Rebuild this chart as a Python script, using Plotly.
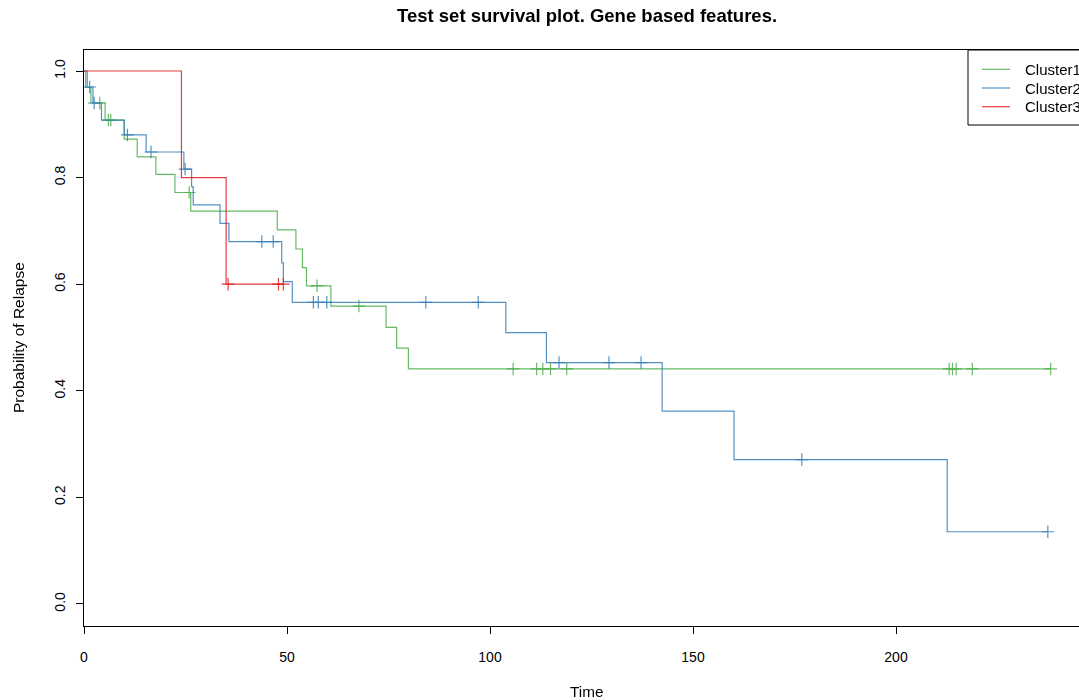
import numpy as np
import plotly.graph_objects as go

# ---- data ----
cluster_names = ["Cluster1", "Cluster2", "Cluster3"]
cluster_colors = ["#4DAF4A", "#377EB8", "#E41A1C"]

c1_event_times = [0.4, 1.7, 5.2, 9.9, 13.1, 17.7, 22.4, 26.3, 47.6, 52.2, 53.8, 54.8, 60.8, 74.4, 77.0, 79.9]
c1_surv = [0.969, 0.940, 0.908, 0.872, 0.839, 0.806, 0.772, 0.737, 0.702, 0.666, 0.631, 0.597, 0.559, 0.519, 0.480, 0.441]
c1_censor = [3.9, 6.0, 6.6, 25.9, 57.4, 67.7, 105.7, 111.5, 113.0, 114.9, 118.9, 213.1, 213.9, 214.8, 218.8, 238.1]

c2_event_times = [0.8, 2.2, 4.3, 9.9, 15.3, 24.6, 26.5, 26.9, 33.5, 35.7, 48.7, 49.1, 51.3, 103.9, 113.9, 142.4, 160.1, 212.6]
c2_surv = [0.970, 0.940, 0.908, 0.880, 0.848, 0.816, 0.783, 0.749, 0.714, 0.680, 0.640, 0.605, 0.566, 0.509, 0.453, 0.362, 0.271, 0.1355]
c2_censor = [1.4, 2.5, 10.7, 16.5, 24.9, 43.8, 46.6, 56.5, 57.7, 59.8, 84.2, 97.1, 117.0, 129.3, 137.2, 176.8, 237.4]

c3_event_times = [24.0, 35.0]
c3_surv = [0.8, 0.6]
c3_censor = [35.5, 47.9, 49.1]

x_ticks = [0, 50, 100, 150, 200]
y_ticks = [0.0, 0.2, 0.4, 0.6, 0.8, 1.0]
y_tick_labels = ["0.0", "0.2", "0.4", "0.6", "0.8", "1.0"]

title_text = "Test set survival plot. Gene based features."
x_title = "Time"
y_title = "Probability of Relapse"

# ---- layout geometry (pixels) ----
W, H = 1079, 700
L, T, B = 84, 50, 74
plot_w = W - L
plot_h = H - T - B
px_per_unit = 4.06
x_max = plot_w / px_per_unit
y_lo, y_hi = -0.0413, 1.0394

FONT = "Liberation Sans, Arial, Helvetica, sans-serif"

series = [
    (c1_event_times, c1_surv, c1_censor),
    (c2_event_times, c2_surv, c2_censor),
    (c3_event_times, c3_surv, c3_censor),
]


def px_to_paper_x(px):
    return (px - L) / plot_w


def px_to_paper_y(py):
    return (H - B - py) / plot_h


fig = go.Figure()
for (ev, sv, cen), name, col in zip(series, cluster_names, cluster_colors):
    ev = np.asarray(ev, float)
    sv = np.asarray(sv, float)
    cen = np.asarray(cen, float)
    end = max(ev.max(), cen.max())
    xs = np.concatenate([[0.0], ev, [end]])
    ys = np.concatenate([[1.0], sv, [sv[-1]]])
    fig.add_trace(go.Scatter(
        x=xs, y=ys, mode="lines", line=dict(color=col, width=1.2, shape="hv"),
        name=name, legendgroup=name, opacity=0.85, showlegend=False,
    ))
    idx = np.searchsorted(ev, cen, side="right")
    levels = np.concatenate([[1.0], sv])[idx]
    fig.add_trace(go.Scatter(
        x=cen, y=levels, mode="markers",
        marker=dict(symbol="cross-thin", size=9, line=dict(color=col, width=1.2)),
        name=name, legendgroup=name, showlegend=False, hoverinfo="x+y", opacity=0.85,
    ))

# ---- legend (drawn as box + sample lines + text) ----
leg_left, leg_top, leg_bottom = 968, 50, 125
leg_rows = [69.3, 88.0, 106.7]
shapes = [dict(type="rect", xref="paper", yref="paper",
               x0=px_to_paper_x(leg_left), x1=px_to_paper_x(1120),
               y0=px_to_paper_y(leg_bottom), y1=px_to_paper_y(leg_top),
               line=dict(color="black", width=1), fillcolor="white", layer="above")]
annotations = []
for name, col, ry in zip(cluster_names, cluster_colors, leg_rows):
    shapes.append(dict(type="line", xref="paper", yref="paper",
                       x0=px_to_paper_x(982), x1=px_to_paper_x(1010),
                       y0=px_to_paper_y(ry), y1=px_to_paper_y(ry),
                       line=dict(color=col, width=1.2), opacity=0.85, layer="above"))
    annotations.append(dict(text=name, xref="paper", yref="paper",
                            x=px_to_paper_x(1023), y=px_to_paper_y(ry),
                            xanchor="left", yanchor="middle", showarrow=False,
                            font=dict(size=15)))

annotations += [
    dict(text="<b>" + title_text + "</b>", xref="paper", yref="paper",
         x=px_to_paper_x(587), y=px_to_paper_y(15), xanchor="center", yanchor="middle",
         showarrow=False, font=dict(size=18.5)),
    dict(text=x_title, xref="paper", yref="paper",
         x=px_to_paper_x(586), y=px_to_paper_y(691), xanchor="center", yanchor="middle",
         showarrow=False, font=dict(size=15.3)),
    dict(text=y_title, xref="paper", yref="paper", textangle=-90,
         x=px_to_paper_x(18), y=px_to_paper_y(338), xanchor="center", yanchor="middle",
         showarrow=False, font=dict(size=15.5)),
]

fig.update_layout(
    width=W, height=H,
    margin=dict(l=L, r=0, t=T, b=B, autoexpand=False),
    paper_bgcolor="white", plot_bgcolor="white",
    font=dict(family=FONT, size=14, color="black"),
    showlegend=False,
    xaxis=dict(
        range=[0, x_max], tickvals=x_ticks, ticktext=[str(v) for v in x_ticks],
        showgrid=False, zeroline=False, showline=True, mirror=True,
        linecolor="black", linewidth=1, ticks="outside", ticklen=7,
        tickcolor="black", tickwidth=1, ticklabelstandoff=11,
        tickfont=dict(size=14),
    ),
    yaxis=dict(
        range=[y_lo, y_hi], tickvals=y_ticks, ticktext=y_tick_labels,
        showgrid=False, zeroline=False, showline=True, mirror=False,
        linecolor="black", linewidth=1, ticks="outside", ticklen=7,
        tickcolor="black", tickwidth=1, tickangle=-90, ticklabelstandoff=5,
        tickfont=dict(size=14),
    ),
    shapes=shapes,
    annotations=annotations,
)

fig.write_html("out.html")
